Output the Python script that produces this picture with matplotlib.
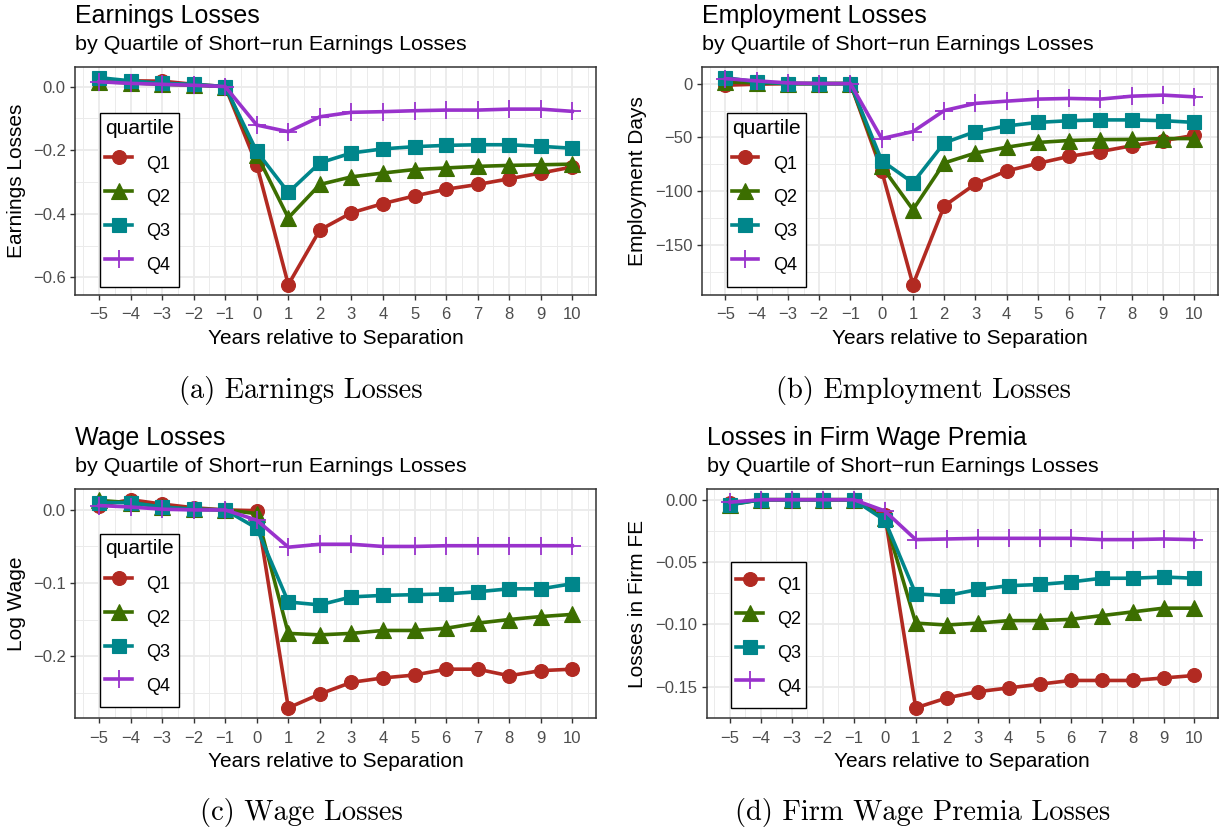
import matplotlib
matplotlib.use("Agg")
import matplotlib.pyplot as plt
from matplotlib.ticker import FixedLocator

# ---- data ---------------------------------------------------------------
years = list(range(-5, 11))
quartiles = ["Q1", "Q2", "Q3", "Q4"]

earn_q1 = [0.012, 0.018, 0.017, 0.007, 0.0, -0.246, -0.623, -0.451, -0.397, -0.368, -0.344, -0.323, -0.308, -0.290, -0.272, -0.253]
earn_q2 = [0.015, 0.012, 0.007, 0.004, 0.0, -0.214, -0.413, -0.308, -0.284, -0.272, -0.261, -0.256, -0.251, -0.248, -0.246, -0.244]
earn_q3 = [0.028, 0.018, 0.010, 0.007, 0.0, -0.204, -0.333, -0.240, -0.209, -0.196, -0.189, -0.185, -0.183, -0.183, -0.188, -0.194]
earn_q4 = [0.015, 0.010, 0.007, 0.004, 0.0, -0.121, -0.142, -0.095, -0.081, -0.079, -0.076, -0.074, -0.074, -0.071, -0.071, -0.078]

emp_q1 = [-1.5, -0.6, 0, 0, 0, -81, -186.5, -113.5, -93, -81, -74, -67.5, -63, -57.7, -53, -48]
emp_q2 = [1.5, 0.6, 0, 0, 0, -76.7, -117, -73.6, -64.4, -59, -54.6, -52.8, -52, -51.8, -51, -51]
emp_q3 = [5.5, 1.5, 0, 0, 0, -71.5, -92, -55, -44.5, -39.3, -36, -34.4, -33.7, -33.7, -34.4, -36]
emp_q4 = [4.6, 2.5, 0.6, 0, 0, -51, -44.5, -25, -18.4, -16.3, -14.4, -13.8, -14.4, -11.7, -10.7, -12.3]

wage_q1 = [0.006, 0.014, 0.008, 0.003, 0.0, -0.001, -0.271, -0.252, -0.236, -0.230, -0.226, -0.218, -0.218, -0.227, -0.220, -0.218]
wage_q2 = [0.013, 0.010, 0.004, 0.001, 0.0, -0.005, -0.169, -0.171, -0.169, -0.165, -0.165, -0.162, -0.155, -0.150, -0.146, -0.143]
wage_q3 = [0.010, 0.010, 0.004, 0.001, 0.0, -0.025, -0.126, -0.130, -0.119, -0.117, -0.116, -0.115, -0.112, -0.108, -0.108, -0.101]
wage_q4 = [0.006, 0.004, 0.001, 0.0, 0.0, -0.014, -0.051, -0.047, -0.047, -0.050, -0.050, -0.049, -0.049, -0.049, -0.049, -0.049]

firm_q1 = [-0.003, 0, 0, 0, 0, -0.012, -0.167, -0.159, -0.154, -0.151, -0.148, -0.145, -0.145, -0.145, -0.143, -0.141]
firm_q2 = [-0.004, 0, 0, 0, 0, -0.015, -0.099, -0.1005, -0.099, -0.097, -0.097, -0.096, -0.093, -0.090, -0.087, -0.087]
firm_q3 = [-0.004, 0, 0, 0, 0, -0.0165, -0.0755, -0.077, -0.072, -0.069, -0.068, -0.066, -0.063, -0.063, -0.062, -0.063]
firm_q4 = [-0.002, 0, 0, 0, 0, -0.009, -0.032, -0.0315, -0.031, -0.031, -0.031, -0.031, -0.032, -0.032, -0.0315, -0.032]

earn_ticks = [0.0, -0.2, -0.4, -0.6]
earn_labels = ["0.0", "\u22120.2", "\u22120.4", "\u22120.6"]
emp_ticks = [0, -50, -100, -150]
emp_labels = ["0", "\u221250", "\u2212100", "\u2212150"]
wage_ticks = [0.0, -0.1, -0.2]
wage_labels = ["0.0", "\u22120.1", "\u22120.2"]
firm_ticks = [0.0, -0.05, -0.10, -0.15]
firm_labels = ["0.00", "\u22120.05", "\u22120.10", "\u22120.15"]
year_labels = [str(y).replace("-", "\u2212") for y in years]

subtitle = "by Quartile of Short\u2212run Earnings Losses"

colors = ["#B22A22", "#3C6E00", "#00868B", "#9932CC"]
markers = ["o", "^", "s", "+"]
msizes = [10, 11, 10, 13]

# ---- layout helpers (pixel coords of the 1225x830 canvas) ----------------
W, H = 1225, 830
def fx(px): return px / W
def fy(py): return 1 - py / H

plt.rcParams['font.family'] = ['Liberation Sans', 'DejaVu Sans']
fig = plt.figure(figsize=(12.25, 8.3), dpi=100)


def panel(box, series, title, ylabel, yticks, ylabels, leg_title, leg_xy, ylab_x, caption, cap_xy):
    l, t, r, b = box
    ax = fig.add_axes([fx(l), fy(b), (r - l) / W, (b - t) / H])
    for vals, c, m, ms, q in zip(series, colors, markers, msizes, quartiles):
        ax.plot(years, vals, color=c, lw=2.6, marker=m, ms=ms, mec=c,
                mew=1.3 if m == "+" else 0.8, label=q)
    lo = min(min(s) for s in series); hi = max(max(s) for s in series)
    ax.set_ylim(lo - 0.05 * (hi - lo), hi + 0.05 * (hi - lo))
    ax.set_xlim(years[0] - 0.75, years[-1] + 0.75)

    ax.xaxis.set_major_locator(FixedLocator(years))
    ax.set_xticklabels(year_labels)
    ax.xaxis.set_minor_locator(FixedLocator([y - 0.5 for y in years] + [years[-1] + 0.5]))
    step = yticks[0] - yticks[1]
    ax.yaxis.set_major_locator(FixedLocator(yticks))
    ax.set_yticklabels(ylabels)
    ax.yaxis.set_minor_locator(FixedLocator([v + step / 2 for v in yticks] + [yticks[-1] - step / 2]))

    ax.grid(which='major', color='#EBEBEB', lw=1.3)
    ax.grid(which='minor', color='#EBEBEB', lw=0.7)
    ax.set_axisbelow(True)
    ax.tick_params(which='major', length=3.8, width=1.0, color='#333333',
                   labelsize=12, labelcolor='#4D4D4D')
    ax.tick_params(axis='x', which='major', pad=5)
    ax.tick_params(axis='y', which='major', pad=3)
    ax.tick_params(which='minor', length=0)
    for sp in ax.spines.values():
        sp.set_color('#333333'); sp.set_linewidth(1.1)

    ax.set_xlabel("Years relative to Separation", fontsize=15, labelpad=5)
    ax.set_ylabel(ylabel, fontsize=15)
    ax.yaxis.set_label_coords(fx(ylab_x), fy((t + b) / 2), transform=fig.transFigure)

    fig.text(fx(l), fy(t - 44), title, fontsize=18, va='baseline', ha='left')
    fig.text(fx(l), fy(t - 17), subtitle, fontsize=15.4, va='baseline', ha='left')

    leg = ax.legend(loc='lower left', bbox_to_anchor=(fx(leg_xy[0]), fy(leg_xy[1])),
                    bbox_transform=fig.transFigure, borderaxespad=0, title=leg_title,
                    fontsize=13, title_fontsize=15, fancybox=False, edgecolor='black',
                    framealpha=1, handlelength=1.45, handletextpad=0.8, handleheight=2.5,
                    labelspacing=0.0, borderpad=0.3, alignment='left')
    leg._legend_box.sep = 6          # gap between legend title and keys
    leg.get_frame().set_linewidth(1.0)

    fig.text(fx(cap_xy[0]), fy(cap_xy[1]), caption, family='cmr10', fontsize=20.5,
             ha='center', va='center')
    return ax


panel((75.3, 67.3, 596, 295), [earn_q1, earn_q2, earn_q3, earn_q4], "Earnings Losses",
      "Earnings Losses", earn_ticks, earn_labels, "quartile", (100, 286.7), 26,
      "(a) Earnings Losses", (301, 390))
panel((702, 67.3, 1217.7, 295), [emp_q1, emp_q2, emp_q3, emp_q4], "Employment Losses",
      "Employment Days", emp_ticks, emp_labels, "quartile", (726.7, 286.7), 647,
      "(b) Employment Losses", (923, 390))
panel((75.3, 489.3, 596, 718.3), [wage_q1, wage_q2, wage_q3, wage_q4], "Wage Losses",
      "Log Wage", wage_ticks, wage_labels, "quartile", (100, 707.3), 26,
      "(c) Wage Losses", (301, 812.5))
panel((706.7, 489.3, 1217.7, 718.3), [firm_q1, firm_q2, firm_q3, firm_q4], "Losses in Firm Wage Premia",
      "Losses in Firm FE", firm_ticks, firm_labels, None, (731, 708.3), 647,
      "(d) Firm Wage Premia Losses", (923, 812.5))

fig.savefig("out.png", dpi=100)
